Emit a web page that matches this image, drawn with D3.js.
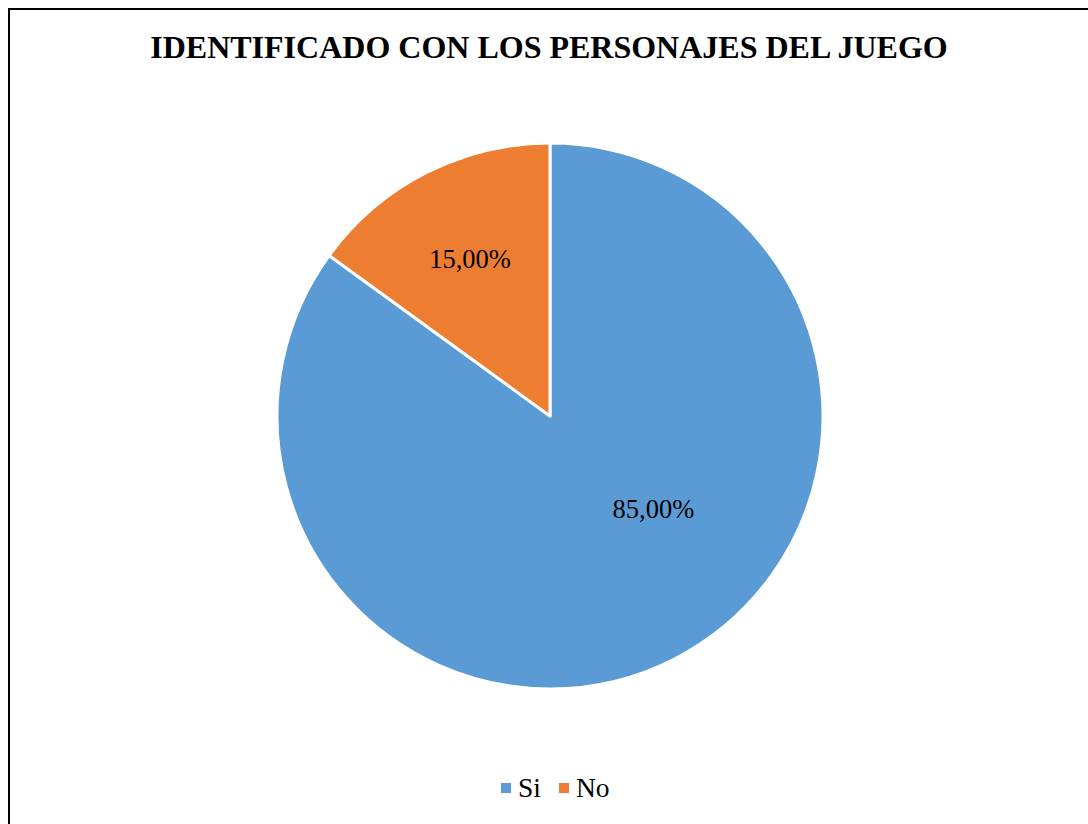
<!DOCTYPE html>
<html>
<head>
<meta charset="utf-8">
<script src="https://cdn.jsdelivr.net/npm/d3@7"></script>
<style>
  html, body { margin: 0; padding: 0; background: #fff; overflow: hidden; }
</style>
</head>
<body>
<div id="chart"></div>
<script>
// chart data
var categories = ["Si", "No"];
var values = [85, 15];
var labels = ["85,00%", "15,00%"];
var colors = ["#5B9BD5", "#ED7D31"];
var title = "IDENTIFICADO CON LOS PERSONAJES DEL JUEGO";

var W = 1088, H = 824;
var cx = 550, cy = 416, radius = 273;

function draw()
{
	var svg = d3.select("#chart").append("svg")
		.attr("width", W)
		.attr("height", H);

	// frame (runs off the right and bottom edge)
	svg.append("rect")
		.attr("x", 9).attr("y", 9)
		.attr("width", W + 20).attr("height", H + 20)
		.attr("fill", "#fff")
		.attr("stroke", "#000")
		.attr("stroke-width", 2);

	svg.append("text")
		.attr("x", 549).attr("y", 58)
		.attr("text-anchor", "middle")
		.attr("font-family", "'Liberation Serif', 'Times New Roman', serif")
		.attr("font-weight", "bold")
		.attr("font-size", 32)
		.text(title);

	var data = categories.map(function(c, i) { return {cat: c, value: values[i], label: labels[i], color: colors[i]}; });

	var pie = d3.pie().sort(null).value(function(d) { return d.value; });
	var arc = d3.arc().innerRadius(0).outerRadius(radius);

	var g = svg.append("g").attr("transform", "translate(" + cx + "," + cy + ")");

	var arcs = pie(data);
	g.selectAll("path")
		.data(arcs)
		.enter().append("path")
		  .attr("d", arc)
		  .attr("fill", function(d) { return d.data.color; })
		  .attr("stroke", "#fff")
		  .attr("stroke-width", 3)
		  .attr("stroke-linejoin", "round");

	// label placement: small slice at mid-angle, big slice pulled toward the right like Excel does
	var labelArc = d3.arc().innerRadius(radius * 0.645).outerRadius(radius * 0.645);
	g.selectAll("text.lbl")
		.data(arcs)
		.enter().append("text")
		  .attr("class", "lbl")
		  .attr("transform", function(d) {
		  	var p;
		  	if (d.endAngle - d.startAngle > Math.PI)
		  	{
		  		var a = Math.PI * 132 / 180;
		  		p = [Math.sin(a) * radius * 0.51, -Math.cos(a) * radius * 0.51];
		  	}
		  	else
		  		p = labelArc.centroid(d);
		  	return "translate(" + p[0] + "," + p[1] + ")";
		  })
		  .attr("dy", "0.33em")
		  .attr("text-anchor", "middle")
		  .attr("font-family", "'Liberation Serif', 'Times New Roman', serif")
		  .attr("font-size", 26.5)
		  .text(function(d) { return d.data.label; });

	// legend
	var legend = svg.append("g").attr("transform", "translate(501,783)");
	var lx = [0, 58];
	var item = legend.selectAll("g")
		.data(data)
		.enter().append("g")
		  .attr("transform", function(d, i) { return "translate(" + lx[i] + ",0)"; });
	item.append("rect")
		.attr("width", 10).attr("height", 10)
		.attr("fill", function(d) { return d.color; });
	item.append("text")
		.attr("x", 17).attr("y", 14)
		.attr("font-family", "'Liberation Serif', 'Times New Roman', serif")
		.attr("font-size", 27.5)
		.text(function(d) { return d.cat; });
}

draw();
</script>
</body>
</html>
